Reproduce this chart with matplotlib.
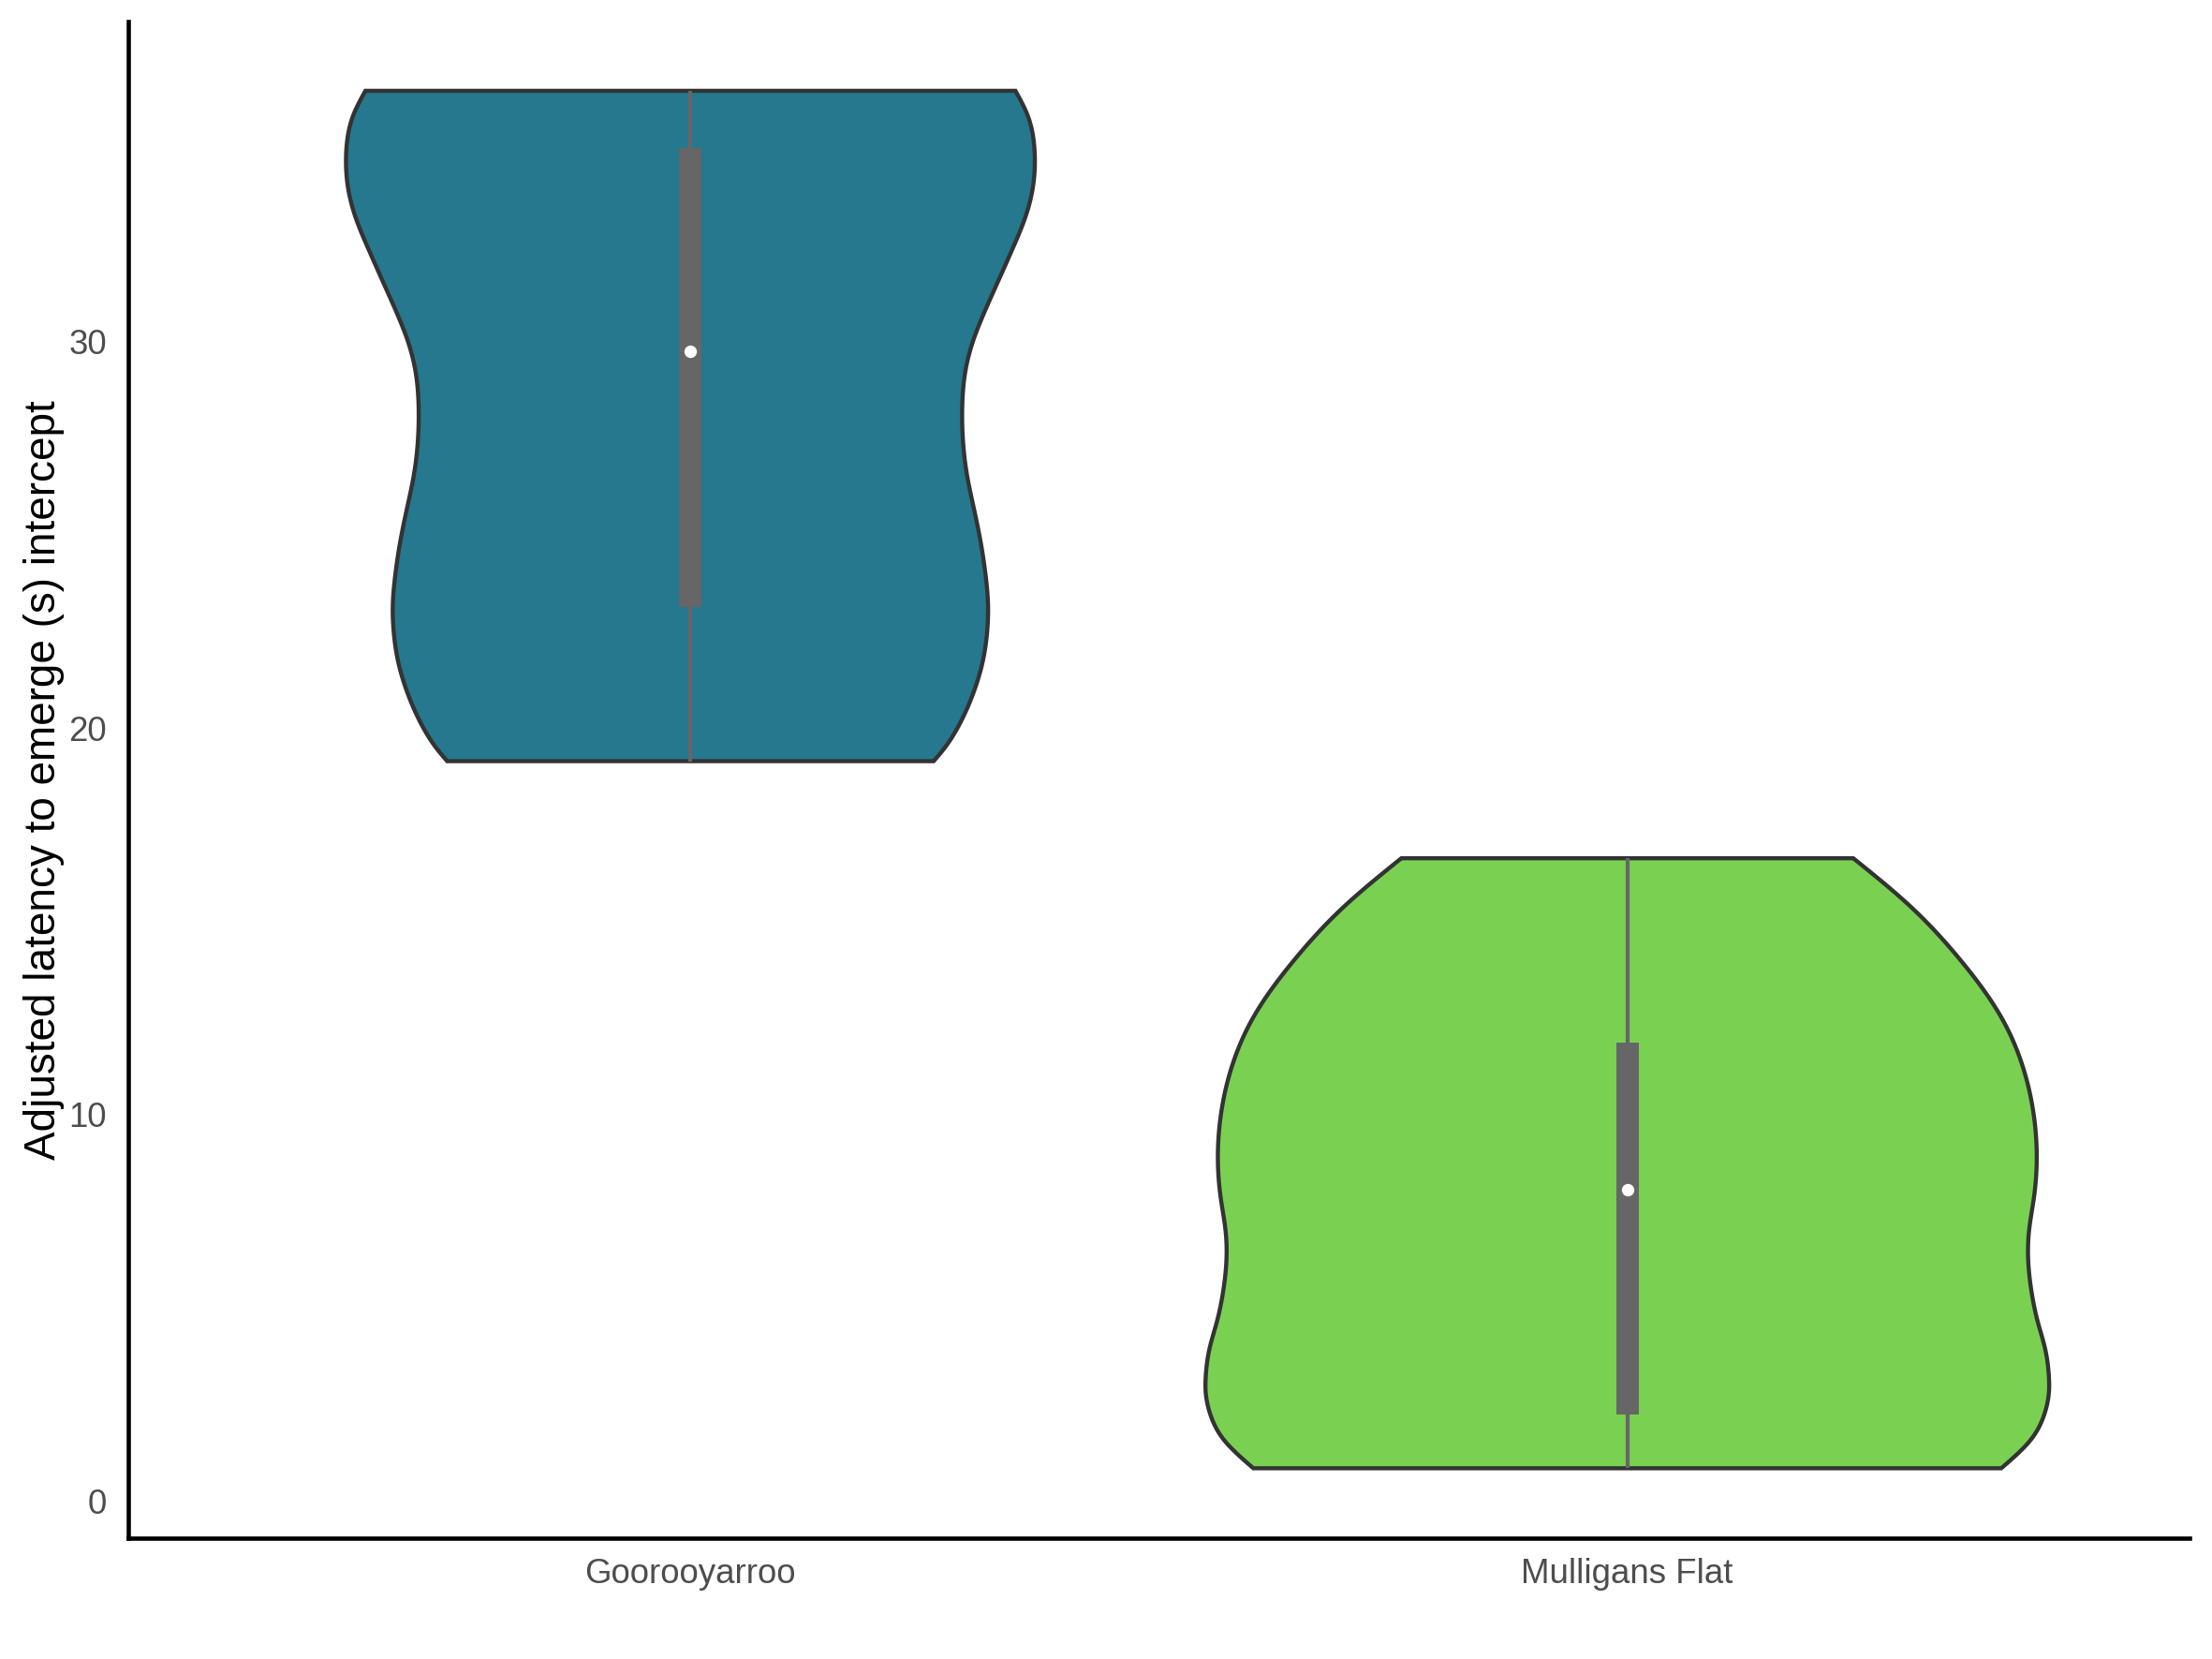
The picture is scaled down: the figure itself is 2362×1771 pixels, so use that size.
import numpy as np
import matplotlib
matplotlib.use("Agg")
import matplotlib.pyplot as plt
from matplotlib.patches import Polygon, Rectangle

# ---------------- data ----------------
sites = ["Goorooyarroo", "Mulligans Flat"]

# density profiles (relative density, max = 1) at y levels
goo_y = [19.14, 19.44, 20.09, 20.90, 21.70, 22.51, 23.15, 23.96, 24.77,
         25.74, 26.54, 27.51, 28.40, 29.21, 30.02, 30.74, 31.55, 32.36,
         33.16, 33.89, 34.62, 35.10, 35.83, 36.47]
goo_density = [0.577, 0.600, 0.638, 0.671, 0.693, 0.704, 0.706, 0.700,
               0.689, 0.671, 0.656, 0.646, 0.645, 0.652, 0.671, 0.697,
               0.730, 0.763, 0.793, 0.811, 0.817, 0.815, 0.800, 0.771]

mul_y = [0.86, 1.61, 2.25, 2.82, 3.22, 3.95, 4.67, 5.48, 6.21, 7.01, 7.82,
         8.31, 9.92, 11.21, 12.50, 14.04, 15.41, 16.63]
mul_density = [0.887, 0.958, 0.989, 1.000, 1.000, 0.991, 0.973, 0.958,
               0.951, 0.953, 0.964, 0.969, 0.965, 0.939, 0.888, 0.787,
               0.669, 0.536]

# box summaries: min, q1, median, q3, max
box_min = [19.14, 0.86]
box_q1 = [23.12, 2.25]
box_median = [29.74, 8.07]
box_q3 = [34.99, 11.87]
box_max = [36.47, 16.63]

fill_colors = ["#25788D", "#7AD151"]

# ---------------- helpers ----------------
def natural_spline(x, y, xs):
    """Natural cubic spline through (x, y), evaluated at xs (for drawing)."""
    x = np.asarray(x, float)
    y = np.asarray(y, float)
    n = len(x)
    h = np.diff(x)
    A = np.zeros((n, n))
    r = np.zeros(n)
    A[0, 0] = A[-1, -1] = 1.0
    for i in range(1, n - 1):
        A[i, i - 1] = h[i - 1]
        A[i, i] = 2 * (h[i - 1] + h[i])
        A[i, i + 1] = h[i]
        r[i] = 3 * ((y[i + 1] - y[i]) / h[i] - (y[i] - y[i - 1]) / h[i - 1])
    c = np.linalg.solve(A, r)
    b = (y[1:] - y[:-1]) / h - h * (2 * c[:-1] + c[1:]) / 3
    d = (c[1:] - c[:-1]) / (3 * h)
    idx = np.clip(np.searchsorted(x, xs) - 1, 0, n - 2)
    t = xs - x[idx]
    return y[idx] + b[idx] * t + c[idx] * t ** 2 + d[idx] * t ** 3


def violin_outline(center, ys, dens, half_width):
    yy = np.linspace(ys[0], ys[-1], 600)
    dd = natural_spline(ys, dens, yy) * half_width
    right = np.column_stack([center + dd, yy])
    left = np.column_stack([center - dd, yy])[::-1]
    return np.vstack([right, left])


# ---------------- figure ----------------
plt.rcParams["font.family"] = ["Liberation Sans", "DejaVu Sans"]
fig = plt.figure(figsize=(2362 / 300, 1771 / 300), dpi=300)
ax = fig.add_axes([0.058, 0.073, 0.9318, 0.914])

positions = [1, 2]
profiles = [(goo_y, goo_density), (mul_y, mul_density)]
half_width = 0.45
box_w = 0.024

for i, pos in enumerate(positions):
    ys, dens = profiles[i]
    outline = violin_outline(pos, ys, dens, half_width)
    ax.add_patch(Polygon(outline, closed=True, facecolor=fill_colors[i],
                         edgecolor="#333333", linewidth=1.05, zorder=2,
                         joinstyle="miter"))
    ax.plot([pos, pos], [box_min[i], box_max[i]], color="#666666",
            linewidth=1.0, solid_capstyle="butt", zorder=3)
    ax.add_patch(Rectangle((pos - box_w / 2, box_q1[i]), box_w,
                           box_q3[i] - box_q1[i], facecolor="#666666",
                           edgecolor="none", zorder=4))
    ax.plot([pos], [box_median[i]], marker="o", markersize=3.2,
            markerfacecolor="white", markeredgecolor="none", zorder=5)

ax.set_xlim(0.4, 2.6)
ax.set_ylim(-0.94, 38.26)
ax.set_xticks(positions)
ax.set_xticklabels(sites)
ax.set_yticks([0, 10, 20, 30])

for s in ["top", "right"]:
    ax.spines[s].set_visible(False)
for s in ["left", "bottom"]:
    ax.spines[s].set_linewidth(1.1)
    ax.spines[s].set_color("black")

ax.tick_params(axis="both", length=0, labelsize=8.8, labelcolor="#4D4D4D")
ax.tick_params(axis="y", pad=5.5)
ax.tick_params(axis="x", pad=5.0)
ax.set_ylabel("Adjusted latency to emerge (s) intercept", fontsize=11,
              color="black")
ax.yaxis.set_label_coords(-0.031, 0.5)

fig.savefig("out.png", dpi=300)
